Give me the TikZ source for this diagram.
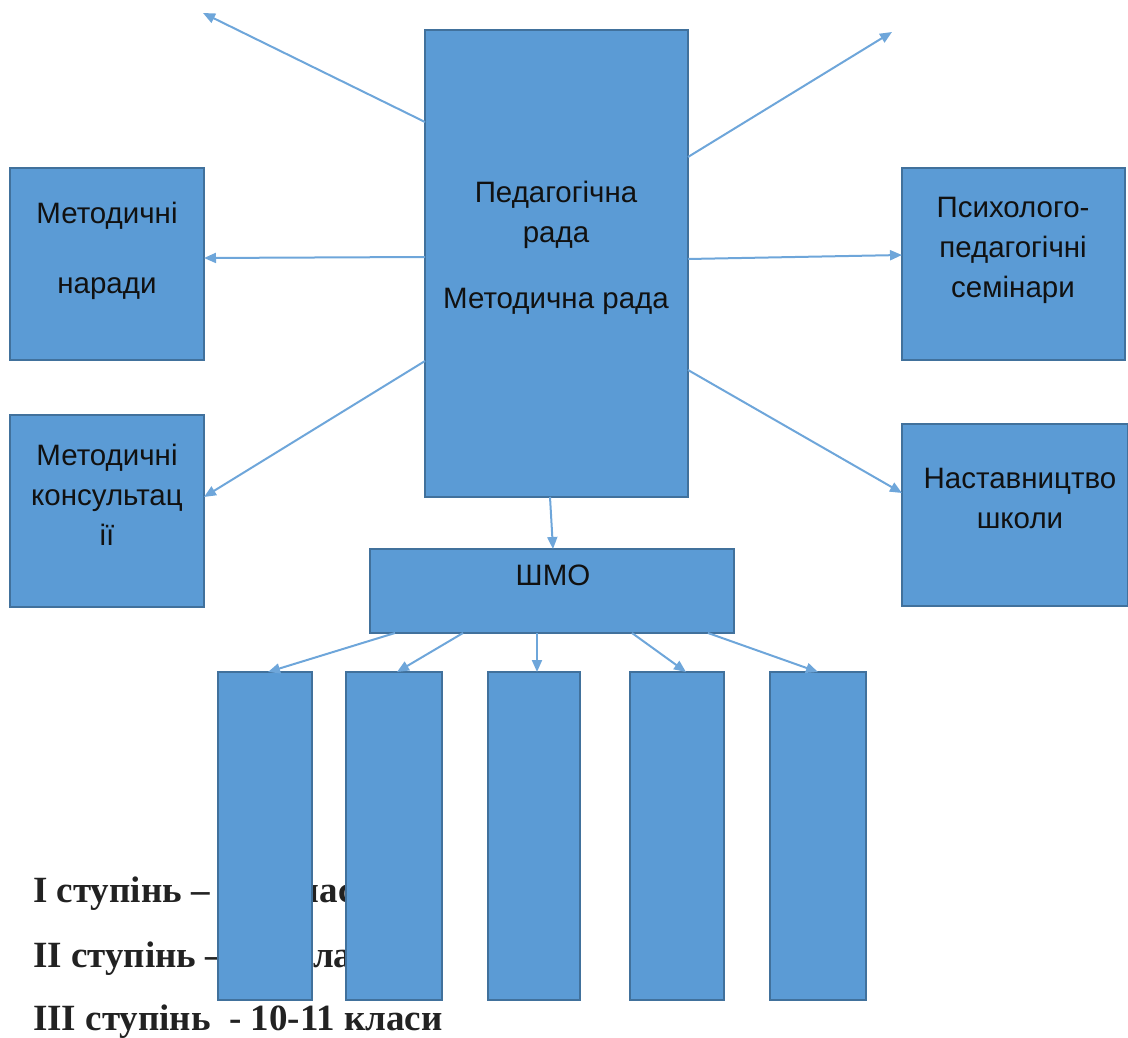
\documentclass[tikz,border=0pt]{standalone}
\usepackage{fontspec}
\setmainfont{Liberation Sans}
\newfontfamily\serifb{Liberation Serif}
\usetikzlibrary{arrows.meta}
\definecolor{boxfill}{HTML}{5B9BD5}
\definecolor{boxline}{HTML}{41719C}
\definecolor{arr}{HTML}{6EA6DA}
\definecolor{txt}{HTML}{111111}
\definecolor{lvltxt}{HTML}{222222}
\begin{document}
\begin{tikzpicture}[x=1pt,y=-1pt,
  box/.style={draw=boxline, line width=1.5pt, fill=boxfill, anchor=north west, inner sep=0pt, outer sep=0pt},
  lbl/.style={font=\fontsize{29.5}{34}\selectfont, text=txt, anchor=base, inner sep=0pt},
  lvl/.style={font=\serifb\bfseries\fontsize{37}{44}\selectfont, text=lvltxt, anchor=base west, inner sep=0pt},
  conn/.style={draw=arr, line width=2pt, -{Triangle[length=12pt,width=10pt]}, shorten >=0pt}
]
\useasboundingbox (0,0) rectangle (1128,1038);

% level text (partly hidden behind boxes)
\node[lvl] (l1) at (33,902) {I ступінь – 1-4 класи};
\node[lvl] (l2) at (33,967) {II ступінь – 5-9 класи};
\node[lvl] (l3) at (33,1030) {III ступінь\ \ - 10-11 класи};

% boxes
\node[box, minimum width=263pt, minimum height=467pt] (c) at (425,30) {};
\node[box, minimum width=194pt, minimum height=192pt] (nar) at (10,168) {};
\node[box, minimum width=194pt, minimum height=192pt] (kons) at (10,415) {};
\node[box, minimum width=223pt, minimum height=192pt] (sem) at (902,168) {};
\node[box, minimum width=226pt, minimum height=182pt] (nast) at (902,424) {};
\node[box, minimum width=364pt, minimum height=84pt] (shmo) at (370,549) {};
\node[box, minimum width=94pt, minimum height=328pt] (b1) at (218,672) {};
\node[box, minimum width=96pt, minimum height=328pt] (b2) at (346,672) {};
\node[box, minimum width=92pt, minimum height=328pt] (b3) at (488,672) {};
\node[box, minimum width=94pt, minimum height=328pt] (b4) at (630,672) {};
\node[box, minimum width=96pt, minimum height=328pt] (b5) at (770,672) {};

% texts
\node[lbl] (t1) at (556,203) {Педагогічна};
\node[lbl] (t2) at (556,243) {рада};
\node[lbl] (t3) at (556,308) {Методична рада};
\node[lbl] (t4) at (107,223) {Методичні};
\node[lbl] (t5) at (107,293) {наради};
\node[lbl] (t6) at (107,465) {Методичні};
\node[lbl] (t7) at (107,505) {консультац};
\node[lbl] (t8) at (107,545) {ії};
\node[lbl] (t9) at (1013,218) {Психолого-};
\node[lbl] (t10) at (1013,258) {педагогічні};
\node[lbl] (t11) at (1013,297) {семінари};
\node[lbl] (t12) at (1020,488) {Наставництво};
\node[lbl] (t13) at (1020,528) {школи};
\node[lbl] (t14) at (553,585) {ШМО};

% free ends
\coordinate (tl) at (203,13);
\coordinate (tr) at (892,32);

% connectors
\draw[conn] (c.west |- 0,122) -- (tl);
\draw[conn] (c.east |- 0,157) -- (tr);
\draw[conn] (c.west |- 0,257) -- (nar.east |- 0,258);
\draw[conn] (c.east |- 0,259) -- (sem.west |- 0,255);
\draw[conn] (c.west |- 0,361) -- (kons.east |- 0,497);
\draw[conn] (c.east |- 0,370) -- (nast.west |- 0,493);
\draw[conn] (550,497) -- (shmo.north -| 553,0);
\draw[conn] (shmo.south -| 395,0) -- (b1.north -| 268,0);
\draw[conn] (shmo.south -| 463,0) -- (b2.north -| 397,0);
\draw[conn] (shmo.south -| 537,0) -- (b3.north -| 537,0);
\draw[conn] (shmo.south -| 632,0) -- (b4.north -| 686,0);
\draw[conn] (shmo.south -| 708,0) -- (b5.north -| 818,0);
\end{tikzpicture}
\end{document}
